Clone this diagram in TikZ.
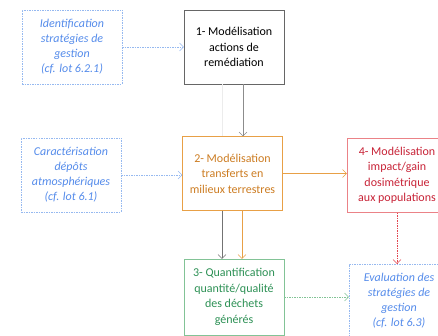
\documentclass[tikz,border=0pt]{standalone}
\usepackage{fontspec}
\setmainfont{Carlito}
\usetikzlibrary{arrows.meta,positioning,calc}

\definecolor{bleu}{RGB}{85,140,235}
\definecolor{bleuclair}{RGB}{150,185,240}
\definecolor{orange1}{RGB}{232,160,70}
\definecolor{orangetxt}{RGB}{205,125,35}
\definecolor{rouge1}{RGB}{235,130,135}
\definecolor{rougetxt}{RGB}{200,35,55}
\definecolor{rougeflc}{RGB}{225,70,80}
\definecolor{vert1}{RGB}{130,195,150}
\definecolor{verttxt}{RGB}{45,145,85}

\begin{document}
\begin{tikzpicture}
                    [x=1pt,y=-1pt,>={Straight Barb[length=4pt,width=8pt]},
                     box/.style={draw,fill=white,minimum width=100pt,minimum height=74pt,
                                 align=center,inner sep=1pt,font=\fontsize{12}{15.5}\selectfont},
                     ext/.style={box,draw=bleuclair,text=bleu,font=\fontsize{12}{15}\selectfont\itshape,
                                 dash pattern=on 1.5pt off 1pt},
                     link/.style={->,dash pattern=on 1.5pt off 1pt}]

                        \useasboundingbox (0,0) rectangle (438,336);
                        \clip (0,0) rectangle (438,336);

                        % sources externes
                        \node[ext] (ident) at (72,47) {Identification\\stratégies de\\gestion\\(cf. lot 6.2.1)};
                        \node[ext] (carac) at (71,175) {Caractérisation\\dépôts\\atmosphériques\\(cf. lot 6.1)};

                        % chaine de modelisation
                        \node[box,draw=gray!80!black,text=black] (remed) at (234,47) {1- Modélisation\\actions de\\remédiation};
                        \node[box,draw=orange1,text=orangetxt] (transf) at (232.5,173.5) {2- Modélisation\\transferts en\\milieux terrestres};
                        \node[box,draw=rouge1,text=rougetxt] (impact) at (397,175.5) {4- Modélisation\\impact/gain\\dosimétrique\\aux populations};
                        \node[box,draw=vert1,text=verttxt,minimum height=76pt] (dechets) at (234,297) {3- Quantification\\quantité/qualité\\des déchets\\générés};
                        \node[ext] (evalu) at (399,301) {Evaluation des\\stratégies de\\gestion\\(cf. lot 6.3)};

                        \draw[link,bleuclair] (ident) -- (remed);
                        \draw[link,bleuclair] (carac.east) -- (carac.east -| transf.west);

                        \draw[gray!15] ([xshift=-12pt]remed.south) -- ([xshift=-12pt]remed.south |- transf.north);
                        \draw[->,gray!90] ([xshift=9pt]remed.south) -- ([xshift=9pt]remed.south |- transf.north);

                        \draw[->,orange1] (transf.east) -- (transf.east -| impact.west);
                        \draw[->,gray!90!black] ([xshift=-10.5pt]transf.south) -- ([xshift=-10.5pt]transf.south |- dechets.north);
                        \draw[->,orange1] ([xshift=9.5pt]transf.south) -- ([xshift=9.5pt]transf.south |- dechets.north);

                        \draw[link,rougeflc] (impact.south) -- (impact.south |- evalu.north);
                        \draw[link,vert1] (dechets.east) -- (dechets.east -| evalu.west);

                \end{tikzpicture}
\end{document}
